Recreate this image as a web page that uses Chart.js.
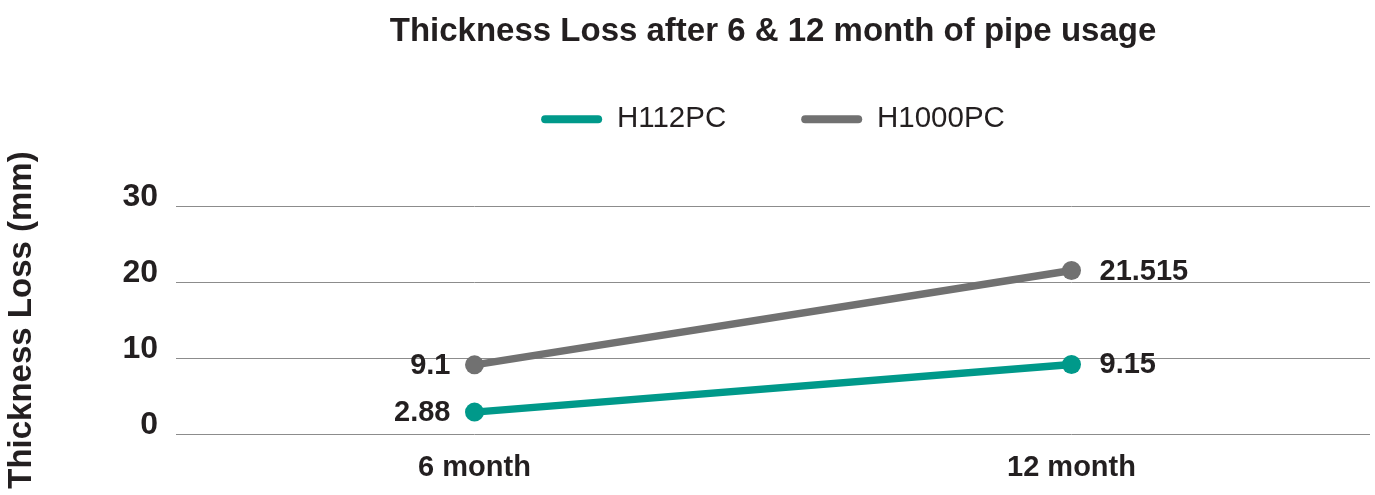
<!DOCTYPE html>
<html>
<head>
<meta charset="utf-8">
<script src="https://cdn.jsdelivr.net/npm/chart.js@4"></script>
<style>
  html, body { margin: 0; padding: 0; background: #ffffff; }
  #wrap { width: 1375px; height: 495px; }
</style>
</head>
<body>
<div id="wrap"><canvas id="c" width="1375" height="495"></canvas></div>
<script>
const categories = ['6 month', '12 month'];
const seriesNames = ['H112PC', 'H1000PC'];
const h112pc = [2.88, 9.15];
const h1000pc = [9.1, 21.515];
const yTicks = [0, 10, 20, 30];

const TEXT = '#231f20';
const TEAL = '#00998a';
const GRAY = '#717171';
const FONT = '"Liberation Sans", Arial, Helvetica, sans-serif';

const dataLabels = {
  id: 'dataLabels',
  afterDatasetsDraw(chart) {
    const ctx = chart.ctx;
    ctx.save();
    ctx.font = 'bold 29px ' + FONT;
    ctx.fillStyle = TEXT;
    ctx.textBaseline = 'middle';
    chart.data.datasets.forEach((ds, di) => {
      const meta = chart.getDatasetMeta(di);
      meta.data.forEach((pt, i) => {
        const txt = String(ds.data[i]);
        if (i === 0) {
          ctx.textAlign = 'right';
          ctx.fillText(txt, pt.x - 24, pt.y + 1);
        } else {
          ctx.textAlign = 'left';
          ctx.fillText(txt, pt.x + 28, pt.y + 1);
        }
      });
    });
    ctx.restore();
  }
};

// adds empty space below the legend so the plot area starts lower
const legendSpacer = {
  id: 'legendSpacer',
  beforeLayout(chart) {
    const lg = chart.legend;
    if (lg && !lg._spacerPatched) {
      const orig = lg.fit;
      lg.fit = function () { orig.call(this); this.height += 62; };
      lg._spacerPatched = true;
    }
  }
};

new Chart(document.getElementById('c'), {
  type: 'line',
  data: {
    labels: categories,
    datasets: [
      {
        label: seriesNames[0],
        data: h112pc,
        borderColor: TEAL,
        backgroundColor: TEAL,
        borderWidth: 7.5,
        pointRadius: 9.5,
        pointHoverRadius: 9.5,
        pointBorderWidth: 0,
        pointBackgroundColor: TEAL,
        tension: 0,
        clip: false
      },
      {
        label: seriesNames[1],
        data: h1000pc,
        borderColor: GRAY,
        backgroundColor: GRAY,
        borderWidth: 7.5,
        pointRadius: 9.5,
        pointHoverRadius: 9.5,
        pointBorderWidth: 0,
        pointBackgroundColor: GRAY,
        tension: 0,
        clip: false
      }
    ]
  },
  options: {
    responsive: false,
    animation: false,
    devicePixelRatio: 1,
    layout: { autoPadding: false, padding: { left: 0, right: 5, top: 0, bottom: 9 } },
    plugins: {
      title: {
        display: true,
        text: 'Thickness Loss after 6 & 12 month of pipe usage',
        color: TEXT,
        fullSize: false,
        font: { family: FONT, size: 33, weight: 'bold', lineHeight: 1.2 },
        padding: { top: 12, bottom: -22 }
      },
      legend: {
        display: true,
        position: 'top',
        fullSize: false,
        labels: {
          color: TEXT,
          font: { family: FONT, size: 29.5, weight: 'normal' },
          boxWidth: 61,
          boxHeight: 8,
          useBorderRadius: true,
          borderRadius: 4,
          padding: 75,
          generateLabels(chart) {
            return chart.data.datasets.map((ds, i) => ({
              text: ds.label,
              fillStyle: ds.borderColor,
              strokeStyle: ds.borderColor,
              lineWidth: 0,
              fontColor: TEXT,
              hidden: false,
              datasetIndex: i,
              borderRadius: 4
            }));
          }
        }
      },
      tooltip: { enabled: false }
    },
    scales: {
      x: {
        offset: true,
        grid: { display: false, drawTicks: false },
        border: { display: false },
        afterFit(scale) {
          scale.height = 52;
          scale.paddingLeft = 0;
          scale.paddingRight = 0;
        },
        ticks: {
          color: TEXT,
          padding: 17,
          font: { family: FONT, size: 29, weight: 'bold' }
        }
      },
      y: {
        min: yTicks[0],
        max: yTicks[yTicks.length - 1],
        afterBuildTicks(scale) {
          scale.ticks = yTicks.map(v => ({ value: v }));
        },
        afterFit(scale) { scale.width = 176; },
        grid: { color: '#8c8c8c', lineWidth: 1, drawTicks: false },
        border: { display: false },
        ticks: {
          color: TEXT,
          padding: 18,
          labelOffset: -9,
          font: { family: FONT, size: 32, weight: 'bold' }
        },
        title: {
          display: true,
          text: 'Thickness Loss (mm)',
          color: TEXT,
          font: { family: FONT, size: 33, weight: 'bold', lineHeight: 1.2 },
          padding: { top: 2, bottom: 4 }
        }
      }
    }
  },
  plugins: [dataLabels, legendSpacer]
});
</script>
</body>
</html>
